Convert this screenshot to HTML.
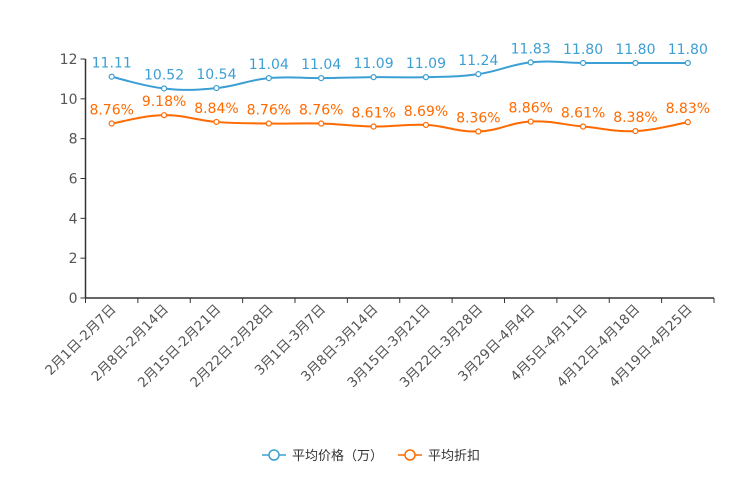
<!DOCTYPE html>
<html><head><meta charset="utf-8">
<style>
body{margin:0;background:#fff;}
svg text{font-family:"DejaVu Sans","Noto Sans CJK SC",sans-serif;}
</style></head>
<body>
<svg id="chart" width="744" height="496" viewBox="0 0 744 496" xmlns="http://www.w3.org/2000/svg">
</svg>
<script>
const categories=["2月1日-2月7日","2月8日-2月14日","2月15日-2月21日","2月22日-2月28日","3月1日-3月7日","3月8日-3月14日","3月15日-3月21日","3月22日-3月28日","3月29日-4月4日","4月5日-4月11日","4月12日-4月18日","4月19日-4月25日"];
const priceValues=[11.11,10.52,10.54,11.04,11.04,11.09,11.09,11.24,11.83,11.80,11.80,11.80];
const discountValues=[8.76,9.18,8.84,8.76,8.76,8.61,8.69,8.36,8.86,8.61,8.38,8.83];
const yTicks=[0,2,4,6,8,10,12];

const svg=document.getElementById('chart');
const NS="http://www.w3.org/2000/svg";
const X0=85.5,X1=714,Y0=298,Y1=59,YMAX=12;
const bw=(X1-X0)/categories.length;
const xs=i=>X0+bw*(i+0.5);
const ys=v=>Y0-(v/YMAX)*(Y0-Y1);
function mk(tag,attrs,parent){const e=document.createElementNS(NS,tag);for(const k in attrs)e.setAttribute(k,attrs[k]);(parent||svg).appendChild(e);return e;}

const yAxis=mk('g',{});


mk('line',{x1:X0,y1:Y1,x2:X0,y2:Y0,stroke:'#333','stroke-width':1.5},yAxis);
yTicks.forEach(t=>{
  mk('line',{x1:X0-5,y1:ys(t),x2:X0,y2:ys(t),stroke:'#333','stroke-width':1},yAxis);
  const tx=mk('text',{x:X0-8,y:ys(t)+5,'text-anchor':'end','font-size':14,fill:'#555'},yAxis);
  tx.textContent=t;
  
  
});
const xAxis=mk('g',{});


mk('line',{x1:X0,y1:Y0,x2:X1,y2:Y0,stroke:'#333','stroke-width':1.5},xAxis);
for(let i=0;i<=categories.length;i++){
  mk('line',{x1:X0+bw*i,y1:Y0,x2:X0+bw*i,y2:Y0+5,stroke:'#333','stroke-width':1},xAxis);
}
categories.forEach((c,i)=>{
  const x=xs(i)+5,y=Y0+12;
  const t=mk('text',{x:x,y:y,'text-anchor':'end','font-size':13.5,fill:'#555',transform:`rotate(-45 ${x} ${y})`},xAxis);
  t.textContent=c;
  
  
});

function smoothPath(pts){
  let d=`M${pts[0][0]},${pts[0][1]}`;
  for(let i=0;i<pts.length-1;i++){
    const p0=pts[Math.max(0,i-1)],p1=pts[i],p2=pts[i+1],p3=pts[Math.min(pts.length-1,i+2)];
    const k=0.2;
    const c1=[p1[0]+(p2[0]-p0[0])*k,p1[1]+(p2[1]-p0[1])*k];
    const c2=[p2[0]-(p3[0]-p1[0])*k,p2[1]-(p3[1]-p1[1])*k];
    d+=` C${c1[0]},${c1[1]} ${c2[0]},${c2[1]} ${p2[0]},${p2[1]}`;
  }
  return d;
}
function series(vals,color,name,fmt){
  const g=mk('g',{});
  
  
  const pts=vals.map((v,i)=>[xs(i),ys(v)]);
  const p=mk('path',{d:smoothPath(pts),fill:'none',stroke:color,'stroke-width':2},g);
  
  
  pts.forEach((q,i)=>{
    const c=mk('circle',{cx:q[0],cy:q[1],r:2.5,fill:'#fff',stroke:color,'stroke-width':1.2},g);
    
    
    const t=mk('text',{x:q[0],y:q[1]-9,'text-anchor':'middle','font-size':14,fill:color},g);
    t.textContent=fmt(vals[i]);
    
    
  });
}
series(priceValues,'#3c9fd4','price-series',v=>v.toFixed(2));
series(discountValues,'#ff6a00','discount-series',v=>v.toFixed(2)+'%');

function legend(x,color,label,name){
  const g=mk('g',{});
  
  
  mk('line',{x1:x,y1:455,x2:x+24,y2:455,stroke:color,'stroke-width':1.5},g);
  mk('circle',{cx:x+12,cy:455,r:5,fill:'#fff',stroke:color,'stroke-width':1.5},g);
  const t=mk('text',{x:x+30,y:460,'font-size':13,fill:'#333'},g);
  t.textContent=label;
}
legend(262,'#3c9fd4','平均价格（万）','legend-entry-price');
legend(398,'#ff6a00','平均折扣','legend-entry-discount');
</script>
</body></html>
